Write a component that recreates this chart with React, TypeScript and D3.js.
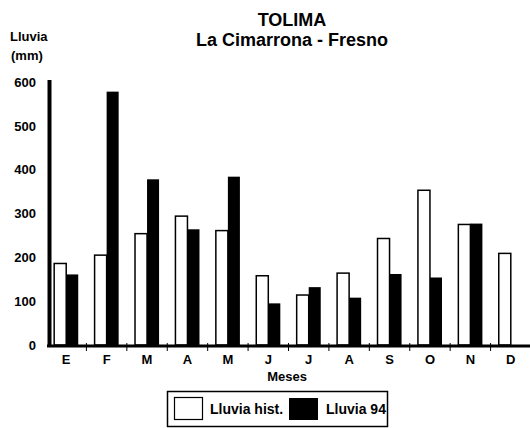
import React from "react";
import * as d3 from "d3";

const months = ["E", "F", "M", "A", "M", "J", "J", "A", "S", "O", "N", "D"];
const lluviaHist = [186, 205, 254, 294, 261, 158, 114, 164, 243, 353, 275, 209];
const lluvia94: (number | null)[] = [161, 578, 378, 264, 384, 95, 132, 108, 162, 154, 277, null];
const yTicks = [0, 100, 200, 300, 400, 500, 600];
const seriesKeys = ["hist", "94"];

const W = 530;
const H = 428;
const FONT = "'Liberation Sans', Arial, Helvetica, sans-serif";

export default function App() {
  const x = d3
    .scaleBand<number>()
    .domain(months.map((_, i) => i))
    .range([46, 531])
    .paddingInner(0)
    .paddingOuter(0);
  const xs = d3
    .scaleBand<string>()
    .domain(seriesKeys)
    .range([0, x.bandwidth()])
    .paddingInner(0)
    .paddingOuter(0.68);
  const y = d3.scaleLinear().domain([0, 600]).range([345, 82]);

  const boundaries = months.slice(1).map((_, i) => (x(i + 1) as number));

  return (
    <svg
      width={W}
      height={H}
      style={{ position: "absolute", left: 0, top: 0, background: "#fff" }}
      fontFamily={FONT}
      fontWeight="bold"
    >
      <rect x={0} y={0} width={W} height={H} fill="#fff" />
      {/* Title */}
      <text x={292} y={26} textAnchor="middle" fontSize={18}>
        TOLIMA
      </text>
      <text x={292} y={46} textAnchor="middle" fontSize={18}>
        La Cimarrona - Fresno
      </text>

      {/* Y axis title */}
      <text x={10} y={41} fontSize={13}>
        Lluvia
      </text>
      <text x={11} y={60} fontSize={13}>
        (mm)
      </text>

      {/* Y tick labels */}
      {yTicks.map((t) => (
        <text key={t} x={36} y={y(t)} dy="0.36em" textAnchor="end" fontSize={13}>
          {t}
        </text>
      ))}

      {/* Bars */}
      {months.map((m, i) => {
        const bx = x(i) as number;
        const h = lluviaHist[i];
        const b = lluvia94[i];
        const bw = xs.bandwidth();
        return (
          <g key={i}>
            <rect
              x={bx + (xs("hist") as number)}
              y={y(h)}
              width={bw}
              height={y(0) - y(h)}
              fill="#fff"
              stroke="#000"
              strokeWidth={1.5}
            />
            {b != null && (
              <rect
                x={bx + (xs("94") as number)}
                y={y(b)}
                width={bw}
                height={y(0) - y(b)}
                fill="#000"
              />
            )}
          </g>
        );
      })}

      {/* Axes */}
      <line x1={47} x2={530} y1={346} y2={346} stroke="#000" strokeWidth={3} />
      <line x1={49.5} x2={49.5} y1={80} y2={347} stroke="#000" strokeWidth={4} />
      {boundaries.map((bx, i) => (
        <line key={i} x1={bx} x2={bx} y1={343} y2={351} stroke="#000" strokeWidth={1} />
      ))}

      {/* Month labels */}
      {months.map((m, i) => (
        <text
          key={i}
          x={(x(i) as number) + x.bandwidth() / 2}
          y={364}
          textAnchor="middle"
          fontSize={13}
        >
          {m}
        </text>
      ))}
      <text x={287} y={381} textAnchor="middle" fontSize={13}>
        Meses
      </text>

      {/* Legend */}
      <rect x={167.5} y={391.5} width={220} height={35} fill="#fff" stroke="#000" strokeWidth={1.5} />
      <rect x={174.5} y={397.5} width={28} height={22} fill="#fff" stroke="#000" strokeWidth={1.2} />
      <text x={210} y={414} fontSize={14}>
        Lluvia hist.
      </text>
      <rect x={289} y={398} width={29} height={22} fill="#000" />
      <text x={326} y={414} fontSize={14}>
        Lluvia 94
      </text>
    </svg>
  );
}
